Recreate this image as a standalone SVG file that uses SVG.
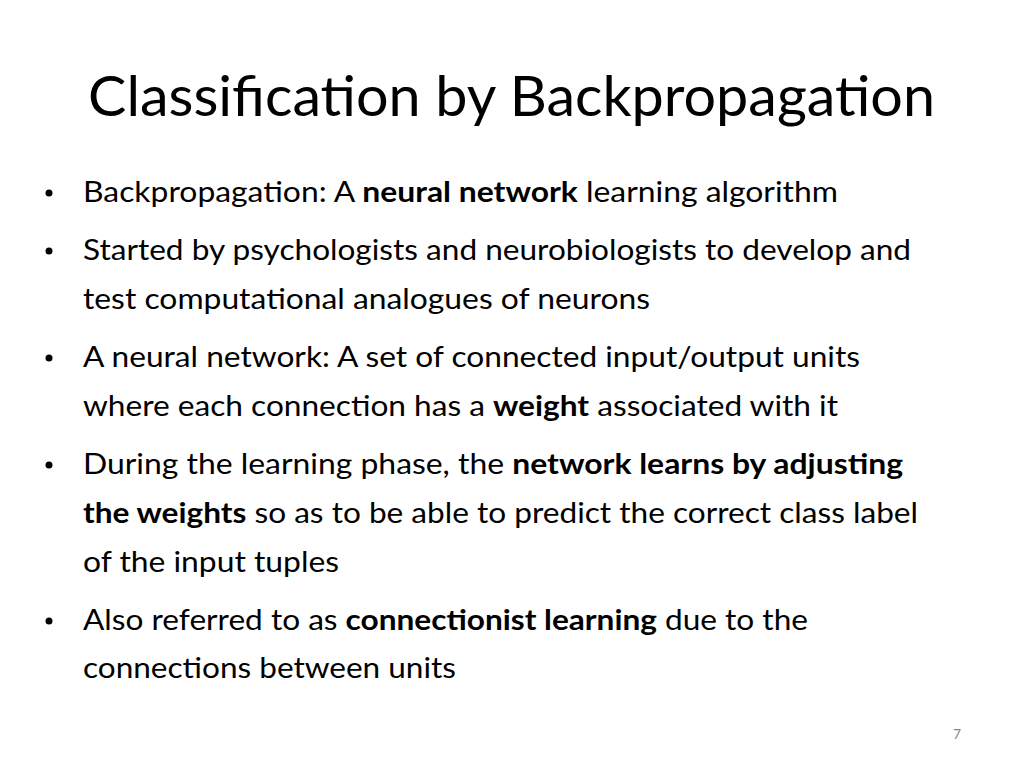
<svg xmlns="http://www.w3.org/2000/svg" width="1024" height="768" viewBox="0 0 1024 768">
<style>
text{font-family:Lato,"Open Sans","Liberation Sans",sans-serif;fill:#000}
.t{font-size:56px}
.b{font-size:29px}
.bd{font-weight:bold}
.n{font-size:14px;fill:#888}
</style>
<rect width="1024" height="768" fill="#fff"/>
<g id="title"><text class="t" x="88" y="116" textLength="847" lengthAdjust="spacingAndGlyphs">Classification by Backpropagation</text></g>
<g id="bullets" fill="#000">
<circle cx="49" cy="193" r="3.5"/><circle cx="49" cy="251" r="3.5"/><circle cx="49" cy="358" r="3.5"/><circle cx="49" cy="465" r="3.5"/><circle cx="49" cy="621" r="3.5"/>
</g>
<g id="body">
<text class="b" x="83" y="202" textLength="755" lengthAdjust="spacingAndGlyphs">Backpropagation: A <tspan class="bd">neural network</tspan> learning algorithm</text>
<text class="b" x="83" y="260" textLength="828" lengthAdjust="spacingAndGlyphs">Started by psychologists and neurobiologists to develop and</text>
<text class="b" x="83" y="309" textLength="567" lengthAdjust="spacingAndGlyphs">test computational analogues of neurons</text>
<text class="b" x="83" y="367" textLength="777" lengthAdjust="spacingAndGlyphs">A neural network: A set of connected input/output units</text>
<text class="b" x="83" y="416" textLength="755" lengthAdjust="spacingAndGlyphs">where each connection has a <tspan class="bd">weight</tspan> associated with it</text>
<text class="b" x="83" y="474" textLength="820" lengthAdjust="spacingAndGlyphs">During the learning phase, the <tspan class="bd">network learns by adjusting</tspan></text>
<text class="b" x="83" y="523" textLength="835" lengthAdjust="spacingAndGlyphs"><tspan class="bd">the weights</tspan> so as to be able to predict the correct class label</text>
<text class="b" x="83" y="572" textLength="256" lengthAdjust="spacingAndGlyphs">of the input tuples</text>
<text class="b" x="83" y="630" textLength="725" lengthAdjust="spacingAndGlyphs">Also referred to as <tspan class="bd">connectionist learning</tspan> due to the</text>
<text class="b" x="83" y="678" textLength="373" lengthAdjust="spacingAndGlyphs">connections between units</text>
</g>
<g id="page"><text class="n" x="953" y="739">7</text></g>
</svg>
